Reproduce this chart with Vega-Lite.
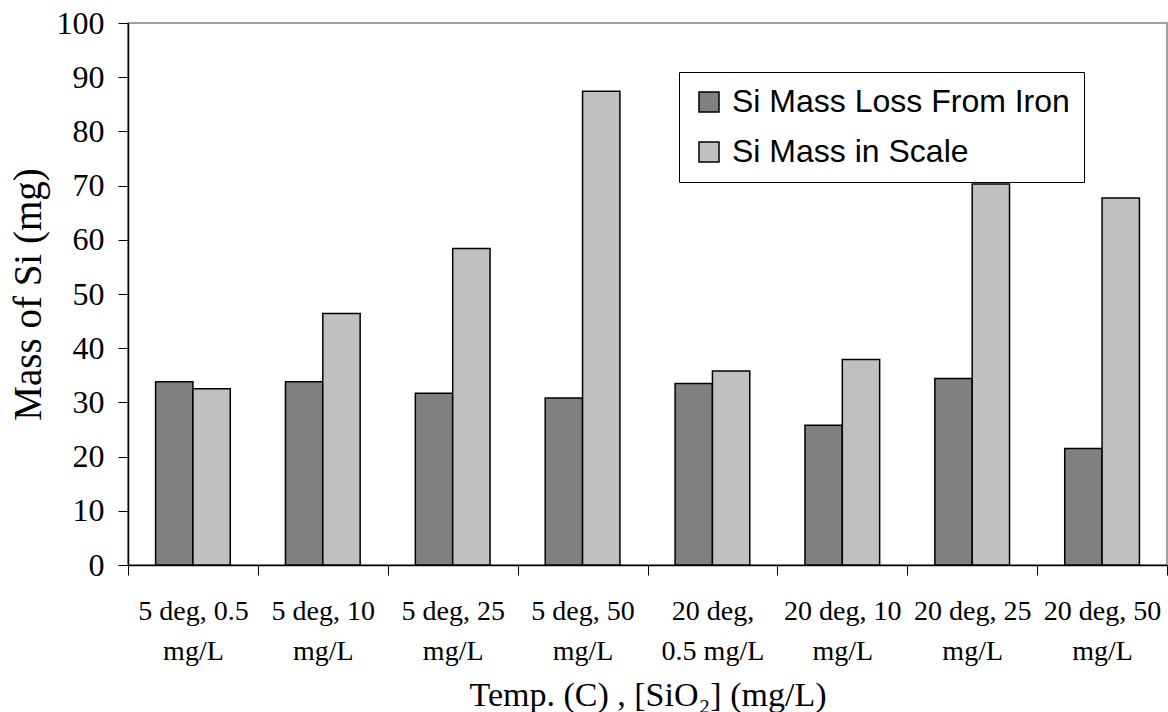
{
  "$schema": "https://vega.github.io/schema/vega-lite/v6.json",
  "width": 1039,
  "height": 542,
  "autosize": {"type": "none"},
  "padding": {"left": 128, "top": 23, "right": 1, "bottom": 147},
  "background": "white",
  "config": {
    "view": {"stroke": "#808080", "strokeWidth": 1.5},
    "font": "Liberation Serif",
    "axis": {"labelColor": "black", "titleColor": "black", "titleFontWeight": "normal", "grid": false}
  },
  "data": {
    "values": [
      {"condition": "5 deg, 0.5 mg/L", "series": "Si Mass Loss From Iron", "mass": 33.8},
      {"condition": "5 deg, 0.5 mg/L", "series": "Si Mass in Scale", "mass": 32.5},
      {"condition": "5 deg, 10 mg/L", "series": "Si Mass Loss From Iron", "mass": 33.8},
      {"condition": "5 deg, 10 mg/L", "series": "Si Mass in Scale", "mass": 46.4},
      {"condition": "5 deg, 25 mg/L", "series": "Si Mass Loss From Iron", "mass": 31.7},
      {"condition": "5 deg, 25 mg/L", "series": "Si Mass in Scale", "mass": 58.4},
      {"condition": "5 deg, 50 mg/L", "series": "Si Mass Loss From Iron", "mass": 30.8},
      {"condition": "5 deg, 50 mg/L", "series": "Si Mass in Scale", "mass": 87.4},
      {"condition": "20 deg, 0.5 mg/L", "series": "Si Mass Loss From Iron", "mass": 33.5},
      {"condition": "20 deg, 0.5 mg/L", "series": "Si Mass in Scale", "mass": 35.8},
      {"condition": "20 deg, 10 mg/L", "series": "Si Mass Loss From Iron", "mass": 25.8},
      {"condition": "20 deg, 10 mg/L", "series": "Si Mass in Scale", "mass": 37.9},
      {"condition": "20 deg, 25 mg/L", "series": "Si Mass Loss From Iron", "mass": 34.4},
      {"condition": "20 deg, 25 mg/L", "series": "Si Mass in Scale", "mass": 70.3},
      {"condition": "20 deg, 50 mg/L", "series": "Si Mass Loss From Iron", "mass": 21.5},
      {"condition": "20 deg, 50 mg/L", "series": "Si Mass in Scale", "mass": 67.7}
    ]
  },
  "mark": {"type": "bar", "stroke": "black", "strokeWidth": 1.5, "opacity": 1},
  "encoding": {
    "x": {
      "field": "condition",
      "type": "nominal",
      "sort": null,
      "scale": {"paddingInner": 0, "paddingOuter": 0},
      "axis": {
        "title": "Temp. (C) ,  [SiO₂] (mg/L)",
        "titleFont": "Liberation Serif",
        "titleFontSize": 34,
        "titleX": 519.5,
        "titleY": 140,
        "titleAlign": "center",
        "titleBaseline": "alphabetic",
        "labelAngle": 0,
        "labelFont": "Liberation Serif",
        "labelFontSize": 28,
        "labelLineHeight": 40,
        "labelPadding": 22,
        "labelLimit": 200,
        "labelExpr": "datum.label == '' ? '' : datum.label == '20 deg, 0.5 mg/L' ? ['20 deg,', '0.5 mg/L'] : [replace(datum.label, ' mg/L', ''), 'mg/L']",
        "tickBand": "extent",
        "tickSize": 10,
        "tickColor": "black",
        "tickWidth": 1,
        "domainColor": "black",
        "domainWidth": 1.5
      }
    },
    "xOffset": {
      "field": "series",
      "type": "nominal",
      "sort": ["Si Mass Loss From Iron", "Si Mass in Scale"],
      "scale": {"paddingInner": 0, "paddingOuter": 0.739}
    },
    "y": {
      "field": "mass",
      "type": "quantitative",
      "scale": {"domain": [0, 100], "nice": false},
      "axis": {
        "title": "Mass of Si (mg)",
        "titleFont": "Liberation Serif",
        "titleFontSize": 39,
        "titleX": -100,
        "titleY": 271,
        "titleAngle": -90,
        "titleAlign": "center",
        "titleBaseline": "middle",
        "values": [0, 10, 20, 30, 40, 50, 60, 70, 80, 90, 100],
        "labelFont": "Liberation Serif",
        "labelFontSize": 32,
        "labelPadding": 14,
        "tickSize": 10,
        "tickColor": "black",
        "tickWidth": 1,
        "domainColor": "black",
        "domainWidth": 1.5
      }
    },
    "color": {
      "field": "series",
      "type": "nominal",
      "sort": ["Si Mass Loss From Iron", "Si Mass in Scale"],
      "scale": {"domain": ["Si Mass Loss From Iron", "Si Mass in Scale"], "range": ["#808080", "#c0c0c0"]},
      "legend": {
        "title": null,
        "orient": "none",
        "legendX": 551,
        "legendY": 49,
        "strokeColor": "black",
        "fillColor": "white",
        "padding": 14,
        "rowPadding": 18,
        "labelFont": "Liberation Sans",
        "labelFontSize": 32,
        "labelColor": "black",
        "labelLimit": 420,
        "labelOffset": 7,
        "symbolType": "square",
        "symbolSize": 400,
        "symbolStrokeColor": "black",
        "symbolStrokeWidth": 1.5,
        "symbolOpacity": 1
      }
    }
  }
}
